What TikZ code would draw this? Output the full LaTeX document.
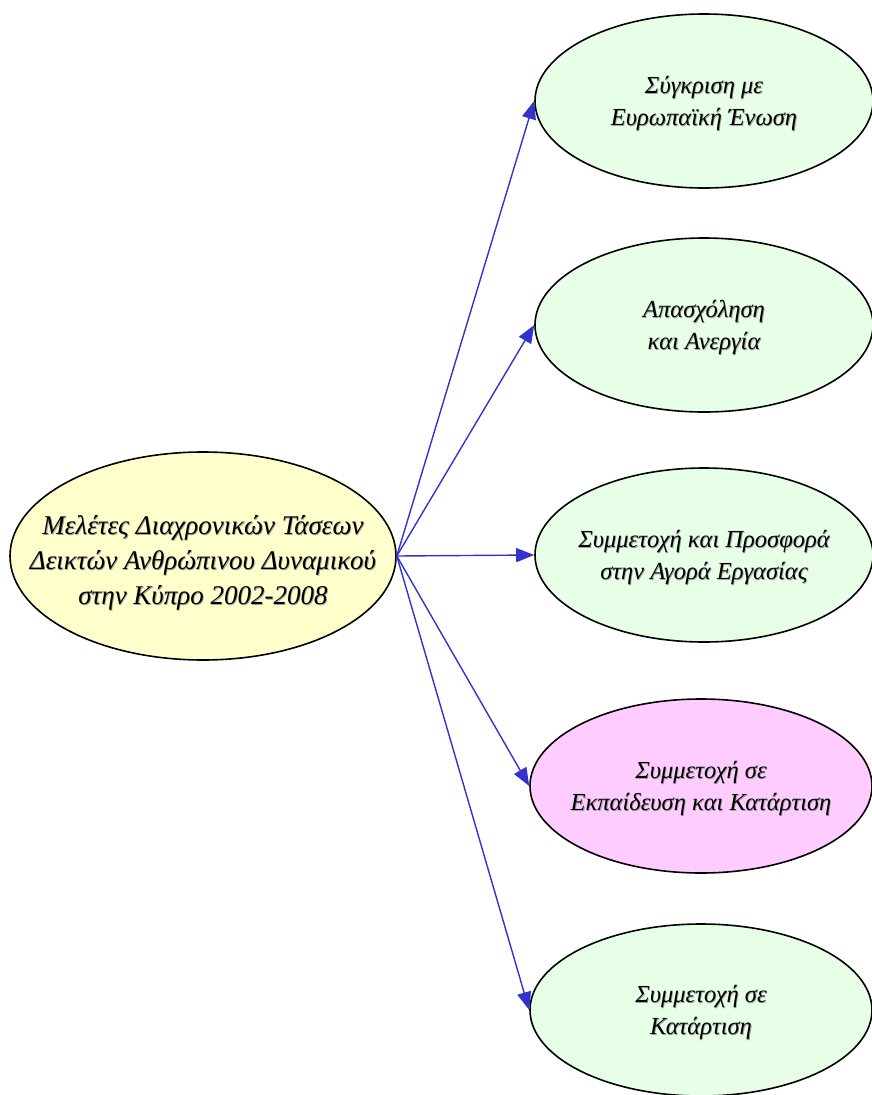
\documentclass[tikz,border=0pt]{standalone}
\usepackage{fontspec}
\setmainfont{Liberation Serif}
\usetikzlibrary{shapes.geometric,arrows.meta}
\definecolor{hubfill}{HTML}{FFFFCC}
\definecolor{leaffill}{HTML}{E6FFE6}
\definecolor{pinkfill}{HTML}{FFCCFF}
\definecolor{arrowblue}{HTML}{3333CC}
\definecolor{shadowgrey}{HTML}{A0A0A0}
\newcommand{\fixedtext}[2][0pt]{%
  \makebox[0pt]{\smash{\raisebox{\dimexpr#1-1.2pt\relax}{\hspace{1.6pt}\color{shadowgrey}\begin{tabular}{@{}c@{}}#2\end{tabular}}}}%
  \makebox[0pt]{\smash{\raisebox{#1}{\begin{tabular}{@{}c@{}}#2\end{tabular}}}}}
\tikzset{
  hub/.style={ellipse, draw=black, line width=1.6pt, fill=hubfill, inner sep=0pt,
    minimum width=386pt, minimum height=208pt,
    font=\fontsize{27}{35}\selectfont\itshape},
  leaf/.style={ellipse, draw=black, line width=1.6pt, fill=leaffill, inner sep=0pt,
    minimum width=338pt, minimum height=174pt,
    font=\fontsize{24.5}{32}\selectfont\itshape},
  link/.style={draw=arrowblue, line width=1.4pt, -{Triangle[length=18pt,width=14pt]}}
}
\begin{document}
\begin{tikzpicture}[x=1pt,y=-1pt]
\useasboundingbox (0,0) rectangle (872,1095);
\node[hub] (hub) at (203,556) {\fixedtext[-13pt]{Μελέτες Διαχρονικών Τάσεων\\Δεικτών Ανθρώπινου Δυναμικού\\στην Κύπρο 2002-2008}};
\node[leaf] (a) at (704,101) {\fixedtext[-8pt]{Σύγκριση με\\Ευρωπαϊκή Ένωση}};
\node[leaf] (b) at (704,325) {\fixedtext[-8pt]{Απασχόληση\\και Ανεργία}};
\node[leaf] (c) at (704,555) {\fixedtext[-8pt]{Συμμετοχή και Προσφορά\\στην Αγορά Εργασίας}};
\node[leaf, fill=pinkfill, minimum width=342pt] (d) at (701,786) {\fixedtext[-8pt]{Συμμετοχή σε\\Εκπαίδευση και Κατάρτιση}};
\node[leaf, minimum width=342pt, minimum height=172pt] (e) at (701,1010) {\fixedtext[-8pt]{Συμμετοχή σε\\Κατάρτιση}};
\draw[link] (hub.east) -- (a.west);
\draw[link] (hub.east) -- (b.west);
\draw[link] (hub.east) -- (c.west);
\draw[link] (hub.east) -- (d.west);
\draw[link] (hub.east) -- (e.west);
\end{tikzpicture}
\end{document}
